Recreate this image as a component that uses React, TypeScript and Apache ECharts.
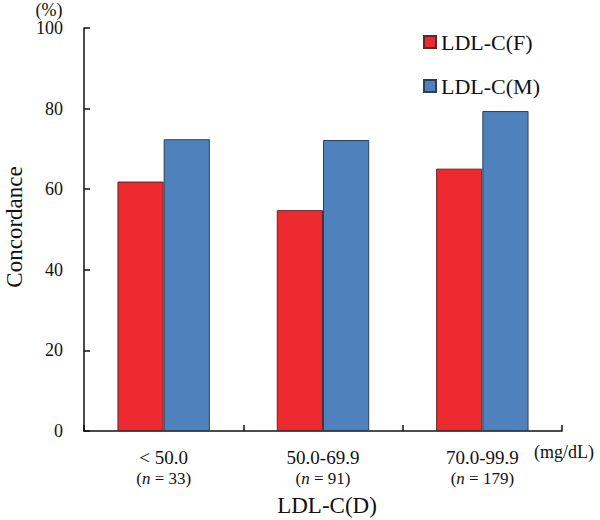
import React, { useEffect, useRef } from "react";
import * as echarts from "echarts";

const categories = ["< 50.0", "50.0-69.9", "70.0-99.9"];
const counts = ["33", "91", "179"];
const seriesF = [61.9, 54.8, 65.1];
const seriesM = [72.4, 72.2, 79.4];
const seriesNames = ["LDL-C(F)", "LDL-C(M)"];

const FONT = "'Liberation Serif', 'DejaVu Serif', serif";

export default function App() {
  const ref = useRef<HTMLDivElement>(null);
  useEffect(() => {
    if (!ref.current) return;
    const chart = echarts.init(ref.current, null, { renderer: "svg" });
    chart.setOption({
      animation: false,
      textStyle: { fontFamily: FONT, color: "#111" },
      grid: { left: 84, right: 38, top: 28, bottom: 89, containLabel: false },
      legend: {
        orient: "vertical",
        left: 423,
        top: 30,
        padding: 0,
        itemWidth: 12,
        itemHeight: 12,
        itemGap: 20,
        icon: "rect",
        textStyle: { fontFamily: FONT, fontSize: 22, lineHeight: 24, color: "#111" },
        data: seriesNames,
      },
      xAxis: {
        type: "category",
        data: categories,
        axisLine: { lineStyle: { color: "#111", width: 1.5 } },
        axisTick: { show: true, inside: true, length: 6, lineStyle: { color: "#111", width: 1.5 } },
        axisLabel: {
          interval: 0,
          hideOverlap: false,
          margin: 15,
          color: "#111",
          fontSize: 19,
          fontFamily: FONT,
          formatter: (v: string) => {
            const i = categories.indexOf(v);
            return `{a|${v}}\n{b|(}{i|n}{b| = ${counts[i]})}`;
          },
          rich: {
            a: { fontSize: 19, fontFamily: FONT, color: "#111", lineHeight: 22 },
            b: { fontSize: 17, fontFamily: FONT, color: "#111", lineHeight: 20 },
            i: { fontSize: 17, fontFamily: FONT, color: "#111", fontStyle: "italic", lineHeight: 20 },
          },
        },
      },
      yAxis: {
        type: "value",
        min: 0,
        max: 100,
        interval: 20,
        splitLine: { show: false },
        axisLine: { show: true, lineStyle: { color: "#111", width: 1.5 } },
        axisTick: { show: true, inside: true, length: 6, lineStyle: { color: "#111", width: 1.5 } },
        axisLabel: { margin: 21, fontSize: 18, color: "#111", fontFamily: FONT },
      },
      series: [
        {
          name: seriesNames[0],
          type: "bar",
          data: seriesF,
          barGap: "0%",
          barCategoryGap: "42%",
          itemStyle: { color: "#EC2A2F", borderColor: "#5a2a2a", borderWidth: 1 },
        },
        {
          name: seriesNames[1],
          type: "bar",
          data: seriesM,
          barGap: "0%",
          barCategoryGap: "42%",
          itemStyle: { color: "#4F81BD", borderColor: "#2f3f55", borderWidth: 1 },
        },
      ],
      graphic: [
        {
          type: "text",
          x: 49,
          y: 10,
          style: {
            text: "(%)",
            fontSize: 18,
            fontFamily: FONT,
            fill: "#111",
            align: "center",
            verticalAlign: "middle",
          },
        },
        {
          type: "text",
          x: 14,
          y: 227,
          rotation: Math.PI / 2,
          style: {
            text: "Concordance",
            fontSize: 23,
            fontFamily: FONT,
            fill: "#111",
            align: "center",
            verticalAlign: "middle",
          },
        },
        {
          type: "text",
          x: 564,
          y: 452,
          style: {
            text: "(mg/dL)",
            fontSize: 18,
            fontFamily: FONT,
            fill: "#111",
            align: "center",
            verticalAlign: "middle",
          },
        },
        {
          type: "text",
          x: 327,
          y: 505,
          style: {
            text: "LDL-C(D)",
            fontSize: 23,
            fontFamily: FONT,
            fill: "#111",
            align: "center",
            verticalAlign: "middle",
          },
        },
      ],
    });
    return () => chart.dispose();
  }, []);
  return (
    <div
      ref={ref}
      style={{ position: "absolute", left: 0, top: 0, width: 600, height: 520 }}
    />
  );
}
